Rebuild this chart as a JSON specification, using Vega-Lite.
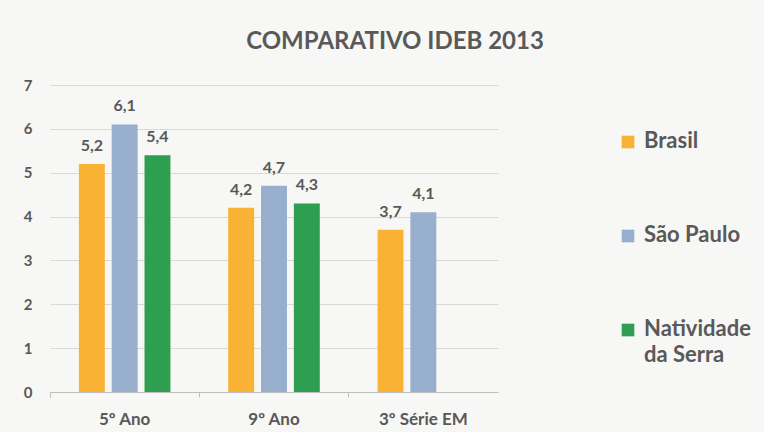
{
  "$schema": "https://vega.github.io/schema/vega-lite/v6.json",
  "width": 448,
  "height": 307,
  "autosize": {"type": "none"},
  "padding": {"left": 50, "top": 85, "right": 266, "bottom": 40},
  "background": "#f7f7f5",
  "config": {
    "locale": {"number": {"decimal": ",", "thousands": ".", "grouping": [3], "currency": ["R$", ""]}},
    "font": "Lato",
    "view": {"stroke": null}
  },
  "title": {
    "text": "COMPARATIVO IDEB 2013",
    "anchor": "middle",
    "frame": "group",
    "dx": 121,
    "offset": 24,
    "fontSize": 24,
    "fontWeight": "bold",
    "color": "#595959",
    "font": "Lato"
  },
  "data": {
    "values": [
      {"serie": "5º Ano", "local": "Brasil", "ideb": 5.2},
      {"serie": "5º Ano", "local": "São Paulo", "ideb": 6.1},
      {"serie": "5º Ano", "local": "Natividade da Serra", "ideb": 5.4},
      {"serie": "9º Ano", "local": "Brasil", "ideb": 4.2},
      {"serie": "9º Ano", "local": "São Paulo", "ideb": 4.7},
      {"serie": "9º Ano", "local": "Natividade da Serra", "ideb": 4.3},
      {"serie": "3º Série EM", "local": "Brasil", "ideb": 3.7},
      {"serie": "3º Série EM", "local": "São Paulo", "ideb": 4.1}
    ]
  },
  "encoding": {
    "x": {
      "field": "serie",
      "type": "nominal",
      "sort": ["5º Ano", "9º Ano", "3º Série EM"],
      "scale": {"paddingInner": 0, "paddingOuter": 0},
      "axis": {
        "title": null,
        "labelAngle": 0,
        "labelFontSize": 17,
        "labelFontWeight": "bold",
        "labelColor": "#595959",
        "labelPadding": 14,
        "domainColor": "#bfbfbf",
        "tickColor": "#bfbfbf",
        "tickSize": 5,
        "bandPosition": 0,
        "grid": false
      }
    },
    "xOffset": {
      "field": "local",
      "type": "nominal",
      "sort": ["Brasil", "São Paulo", "Natividade da Serra"],
      "scale": {"domain": ["Brasil", "São Paulo", "Natividade da Serra"], "paddingInner": 0.21, "paddingOuter": 0.88}
    },
    "y": {
      "field": "ideb",
      "type": "quantitative",
      "scale": {"domain": [0, 7], "nice": false},
      "axis": {
        "title": null,
        "values": [0, 1, 2, 3, 4, 5, 6, 7],
        "format": "d",
        "labelFontSize": 15,
        "labelFontWeight": "bold",
        "labelColor": "#595959",
        "labelPadding": 18,
        "domain": false,
        "ticks": false,
        "gridColor": "#d9d9d9"
      }
    }
  },
  "layer": [
    {
      "mark": {"type": "bar"},
      "encoding": {
        "color": {
          "field": "local",
          "type": "nominal",
          "sort": ["Brasil", "São Paulo", "Natividade da Serra"],
          "scale": {"domain": ["Brasil", "São Paulo", "Natividade da Serra"], "range": ["#f9b233", "#97aecc", "#2e9e50"]},
          "legend": {
            "title": null,
            "orient": "none",
            "legendX": 567,
            "legendY": 46,
            "symbolType": "square",
            "symbolSize": 160,
            "symbolStrokeWidth": 0,
            "labelFontSize": 22,
            "labelFontWeight": "bold",
            "labelColor": "#595959",
            "labelLimit": 200,
            "rowPadding": 72,
            "labelOffset": 5,
            "labelBaseline": "top",
            "labelExpr": "datum.label == 'Natividade da Serra' ? ['Natividade', 'da Serra'] : datum.label",
            "encode": {
              "labels": {
                "update": {
                  "dy": {"value": -11},
                  "lineHeight": {"value": 26}
                }
              }
            }
          }
        }
      }
    },
    {
      "mark": {"type": "text", "baseline": "alphabetic", "dy": -13, "fontSize": 16, "fontWeight": "bold", "color": "#595959"},
      "encoding": {
        "text": {"field": "ideb", "type": "quantitative", "format": ".1f"}
      }
    }
  ]
}
